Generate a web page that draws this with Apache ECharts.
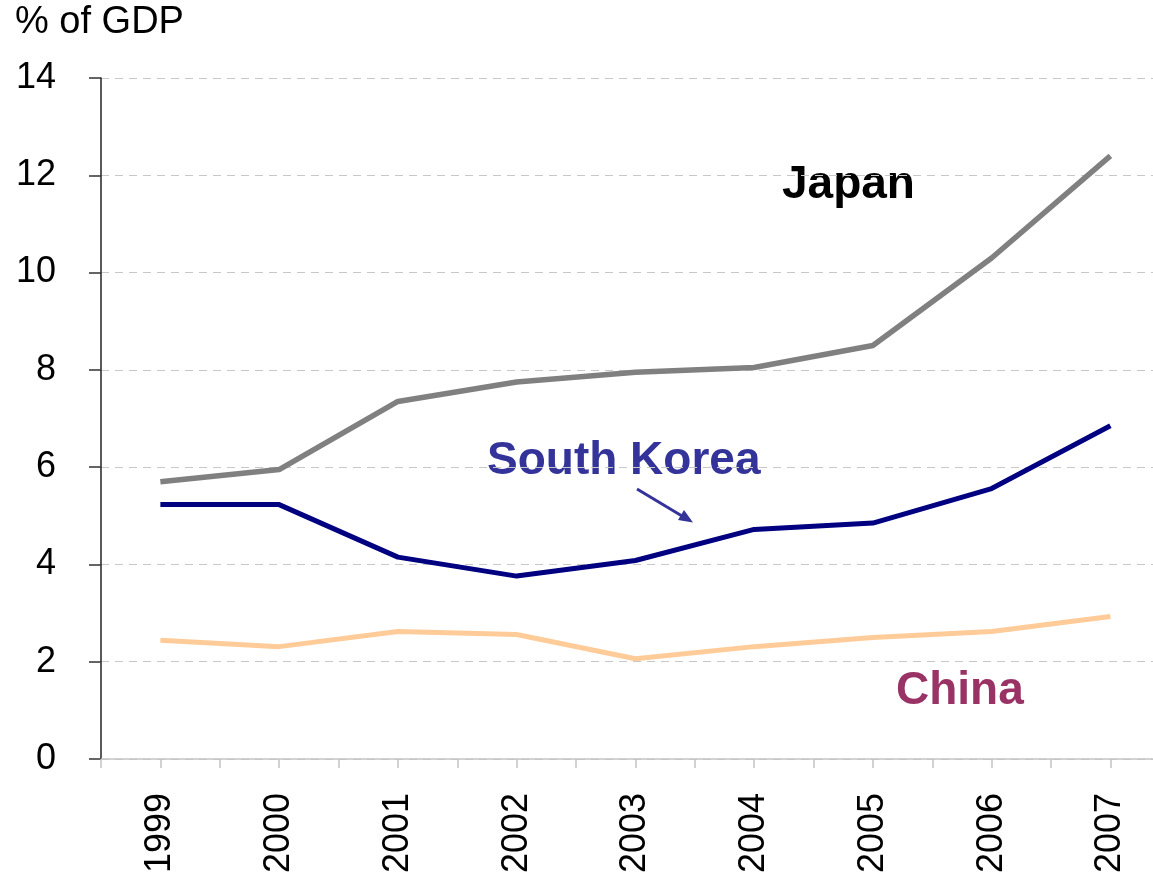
<!DOCTYPE html>
<html>
<head>
<meta charset="utf-8">
<script src="https://cdn.jsdelivr.net/npm/echarts@6/dist/echarts.min.js"></script>
<style>
  html, body { margin: 0; padding: 0; background: #fff; }
  #chart { width: 1153px; height: 876px; }
</style>
</head>
<body>
<div id="chart"></div>
<script>
var years = ['1999', '2000', '2001', '2002', '2003', '2004', '2005', '2006', '2007'];
var japan = [5.7, 5.95, 7.35, 7.75, 7.95, 8.05, 8.5, 10.3, 12.4];
var southKorea = [5.23, 5.23, 4.15, 3.76, 4.08, 4.72, 4.85, 5.56, 6.85];
var china = [2.44, 2.31, 2.62, 2.56, 2.06, 2.31, 2.5, 2.62, 2.93];

var font = 'Liberation Sans, Arial, sans-serif';

var chart = echarts.init(document.getElementById('chart'));

function lineSeries(name, data, color, width) {
  return {
    name: name,
    type: 'line',
    data: data,
    symbol: 'none',
    smooth: false,
    lineStyle: { color: color, width: width },
    z: 3
  };
}

function note(text, x, y, color) {
  return {
    type: 'text',
    style: {
      text: text, x: x, y: y, align: 'left', verticalAlign: 'middle',
      fontSize: 46, fontWeight: 'bold', fill: color, fontFamily: font
    }
  };
}

chart.setOption({
  animation: false,
  backgroundColor: '#fff',
  grid: { left: 101, top: 78, width: 1068.75, height: 681, outerBoundsMode: 'none', containLabel: false },
  xAxis: [
    {
      type: 'category',
      data: years,
      boundaryGap: true,
      axisLine: { lineStyle: { color: '#c4c4c4', width: 1.5 } },
      axisTick: { show: true, alignWithLabel: true, length: 9, lineStyle: { color: '#c4c4c4', width: 1.5 } },
      axisLabel: { rotate: 90, fontSize: 36, color: '#000', fontFamily: font, margin: 34 },
      splitLine: { show: false }
    },
    {
      type: 'category',
      data: years,
      position: 'bottom',
      boundaryGap: true,
      axisLine: { show: false },
      axisTick: { show: true, length: 9, lineStyle: { color: '#c4c4c4', width: 1.5 } },
      axisLabel: { show: false },
      splitLine: { show: false }
    }
  ],
  yAxis: {
    type: 'value',
    min: 0,
    max: 14,
    interval: 2,
    axisLine: { show: true, lineStyle: { color: '#222', width: 1.5 } },
    axisTick: { show: true, inside: false, length: 12, lineStyle: { color: '#333', width: 1.5 } },
    axisLabel: { fontSize: 36, color: '#000', fontFamily: font, margin: 45 },
    splitLine: { show: true, lineStyle: { color: '#c8c8c8', type: [8, 6], width: 1 } }
  },
  series: [
    lineSeries('Japan', japan, '#808080', 5.5),
    lineSeries('South Korea', southKorea, '#000080', 5),
    lineSeries('China', china, '#ffcc99', 5)
  ],
  graphic: [
    {
      type: 'text', left: 15, top: 4,
      style: { text: '% of GDP', fontSize: 38, fill: '#000', fontFamily: font }
    },
    note('Japan', 782, 185, '#000'),
    note('South Korea', 487, 461, '#333399'),
    note('China', 896, 691, '#993366'),
    {
      type: 'line',
      shape: { x1: 637, y1: 489, x2: 682, y2: 516 },
      style: { stroke: '#333399', lineWidth: 3 }
    },
    {
      type: 'polygon',
      shape: { points: [[693, 522.5], [678, 520], [684, 510]] },
      style: { fill: '#333399' }
    }
  ]
});
</script>
</body>
</html>
